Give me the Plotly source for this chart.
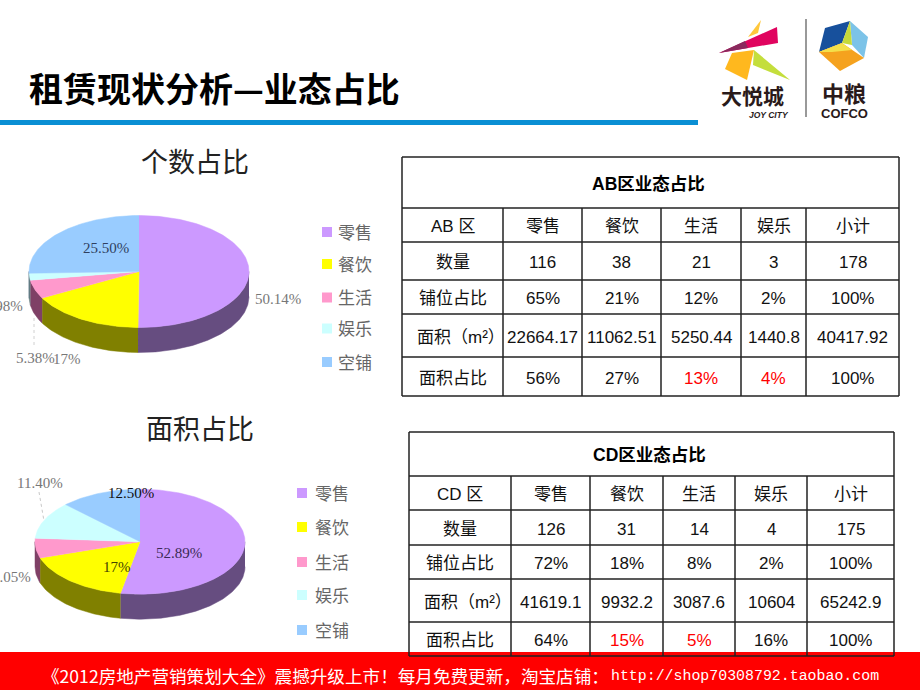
import math
import plotly.graph_objects as go

W, H = 920, 690
CJK = "Noto Sans CJK SC"
SANS = "Liberation Sans, Noto Sans CJK SC"
SERIF = "Liberation Serif, Noto Sans CJK SC"

# ---------- data ----------
slice_names = ["零售", "餐饮", "生活", "娱乐", "空铺"]
count_share = [50.14, 17, 5.38, 1.98, 25.50]
area_share = [52.89, 17, 6.05, 11.40, 12.50]
count_labels = ["50.14%", "17%", "5.38%", "1.98%", "25.50%"]
area_labels = ["52.89%", "17%", "6.05%", "11.40%", "12.50%"]
top_colors = ["#CC99FF", "#FFFF00", "#FF99CC", "#CCFFFF", "#99CCFF"]
side_colors = ["#664D80", "#808000", "#7F4066", "#668080", "#4D6680"]

ab_title = "AB区业态占比"
ab_rows = [
    ["AB 区", "零售", "餐饮", "生活", "娱乐", "小计"],
    ["数量", "116", "38", "21", "3", "178"],
    ["铺位占比", "65%", "21%", "12%", "2%", "100%"],
    ["面积（m²）", "22664.17", "11062.51", "5250.44", "1440.8", "40417.92"],
    ["面积占比", "56%", "27%", "13%", "4%", "100%"],
]
ab_red = [(4, 3), (4, 4)]

cd_title = "CD区业态占比"
cd_rows = [
    ["CD 区", "零售", "餐饮", "生活", "娱乐", "小计"],
    ["数量", "126", "31", "14", "4", "175"],
    ["铺位占比", "72%", "18%", "8%", "2%", "100%"],
    ["面积（m²）", "41619.1", "9932.2", "3087.6", "10604", "65242.9"],
    ["面积占比", "64%", "15%", "5%", "16%", "100%"],
]
cd_red = [(4, 2), (4, 3)]

# ---------- layout geometry ----------
ab_xs = [402, 503, 582, 661, 741, 806, 899]
ab_ys = [157, 208, 242, 280, 314, 357, 396]
cd_xs = [409, 511, 590, 663, 735, 807, 894]
cd_ys = [432, 476, 510, 545, 579, 622, 656]

fig = go.Figure()
shapes, notes = [], []


def note(x, y, text, size, color="#000000", family=CJK, anchor="center", bold=False, italic=False):
    notes.append(dict(x=x, y=y, text=text, showarrow=False, xanchor=anchor, yanchor="middle",
                      xref="x", yref="y", align="center",
                      font=dict(size=size, color=color, family=family,
                                weight="bold" if bold else "normal",
                                style="italic" if italic else "normal")))


def poly(points, color):
    path = "M" + "L".join(f"{x},{y}" for x, y in points) + "Z"
    shapes.append(dict(type="path", path=path, fillcolor=color, line=dict(width=0), xref="x", yref="y"))


def line(x0, y0, x1, y1, color="#222222", width=1.5, dash="solid"):
    shapes.append(dict(type="line", x0=x0, y0=y0, x1=x1, y1=y1, xref="x", yref="y",
                       line=dict(color=color, width=width, dash=dash)))


def pie3d(values, cx, cy, rx, ry, depth):
    total = sum(values)
    def pt(deg, dy=0):
        a = math.radians(deg)
        return cx + rx * math.sin(a), cy - ry * math.cos(a) + dy
    start = 0.0
    spans = []
    for v in values:
        end = start + 360.0 * v / total
        spans.append((start, end))
        start = end
    # side walls: only the front half (90..270 degrees) is visible
    for (a0, a1), col in zip(spans, side_colors):
        lo, hi = max(a0, 90), min(a1, 270)
        if hi <= lo:
            continue
        n = max(int(hi - lo), 2)
        arc = [lo + (hi - lo) * i / n for i in range(n + 1)]
        pts = [pt(a) for a in arc] + [pt(a, depth) for a in reversed(arc)]
        fig.add_trace(go.Scatter(x=[p[0] for p in pts], y=[p[1] for p in pts], mode="lines",
                                 fill="toself", fillcolor=col, line=dict(width=0.5, color=col),
                                 hoverinfo="skip", showlegend=False))
    # top faces
    for (a0, a1), col in zip(spans, top_colors):
        n = max(int(a1 - a0), 2)
        pts = [(cx, cy)] + [pt(a0 + (a1 - a0) * i / n) for i in range(n + 1)]
        fig.add_trace(go.Scatter(x=[p[0] for p in pts], y=[p[1] for p in pts], mode="lines",
                                 fill="toself", fillcolor=col, line=dict(width=0.5, color=col),
                                 hoverinfo="skip", showlegend=False))


def key(x, ys, tx):
    fig.add_trace(go.Scatter(x=[x] * len(ys), y=ys, mode="markers",
                             marker=dict(symbol="square", size=10, color=top_colors, line=dict(width=0)),
                             hoverinfo="skip", showlegend=False))
    for y, name in zip(ys, slice_names):
        note(tx, y - 1, name, 17, "#666666", anchor="left")


def table(title, rows, red, xs, ys):
    for y in ys:
        line(xs[0], y, xs[-1], y)
    line(xs[0], ys[0], xs[0], ys[-1])
    line(xs[-1], ys[0], xs[-1], ys[-1])
    for x in xs[1:-1]:
        line(x, ys[1], x, ys[-1])
    note((xs[0] + xs[-1]) / 2 - 2, (ys[0] + ys[1]) / 2 + 1, title, 17.5, "#000000", SANS, bold=True)
    for r, row in enumerate(rows):
        for c, txt in enumerate(row):
            color = "#FF0000" if (r, c) in red else "#111111"
            shift = 8 if (c == 0 and "m²" in txt) else 0
            note((xs[c] + xs[c + 1]) / 2 + shift, (ys[r + 1] + ys[r + 2]) / 2 + 1.5, txt, 17, color, SANS)


# ---------- footer band (under the tables) ----------
shapes.append(dict(type="rect", x0=0, x1=W, y0=652, y1=H, fillcolor="#FF0000", line=dict(width=0),
                   xref="x", yref="y"))
note(40, 675, "《2012房地产营销策划大全》震撼升级上市！每月免费更新，淘宝店铺：", 17.6, "#FFFFFF", CJK, anchor="left")
note(881, 676, "http://shop70308792.taobao.com", 14.9, "#FFFFFF", "Liberation Mono", anchor="right")

# ---------- heading ----------
note(27, 87, "租赁现状分析—业态占比", 34, "#000000", CJK, anchor="left", bold=True)
shapes.append(dict(type="rect", x0=0, x1=698, y0=120, y1=125, fillcolor="#0A8FD4", line=dict(width=0),
                   xref="x", yref="y"))

# ---------- logo ----------
poly([(719, 53), (777, 27), (778, 43)], "#E0045F")
poly([(719, 53), (745, 41), (748, 48)], "#8A2A5E")
poly([(761, 20), (748, 37), (758, 33)], "#FFC83C")
poly([(732, 53), (754, 50), (747, 80), (725, 69)], "#FFB81E")
poly([(754, 50), (790, 80), (753, 65)], "#C4DE3C")
line(806, 19, 806, 117, "#555555", 1.2)
poly([(825, 28), (850, 21), (842, 43), (819, 52)], "#17509C")
poly([(850, 21), (868, 37), (864, 58), (852, 45)], "#7CC3E8")
poly([(850, 21), (852, 45), (842, 43)], "#C6DA3A")
poly([(819, 52), (842, 43), (864, 58), (840, 71)], "#F5A21E")
poly([(819, 52), (842, 43), (852, 50), (832, 52)], "#F4E04A")
note(752, 95, "大悦城", 21, "#2A1A1A", CJK, bold=True)
note(769, 115, "JOY CITY", 8.5, "#2A1A1A", "Liberation Sans", bold=True, italic=True)
note(844, 92, "中粮", 22, "#2A1A1A", CJK, bold=True)
note(844, 113, "COFCO", 13, "#2A1A1A", "Liberation Sans", bold=True)

# ---------- pies ----------
note(195, 160, "个数占比", 27, "#222222")
pie3d(count_share, 139, 271.5, 110, 56, 25)
key(327, [232, 264, 297.5, 328.5, 362], 336)
note(106, 248, count_labels[4], 15, "#2F3F5F", SERIF)
note(278, 299, count_labels[0], 15, "#777777", SERIF)
note(25, 306, count_labels[3], 15, "#777777", SERIF, anchor="right")
note(35, 358, count_labels[2], 15, "#777777", SERIF)
note(67, 359, count_labels[1], 15, "#777777", SERIF)
line(34, 318, 34, 346, "#D0D0D0", 1, "dot")

note(200, 427, "面积占比", 27, "#222222")
pie3d(area_share, 140, 541.7, 105, 52.5, 25)
key(302, [493, 527, 562, 595, 630], 313)
note(131, 493, area_labels[4], 15, "#111111", SERIF)
note(179, 553, area_labels[0], 15, "#3A2A55", SERIF)
note(117, 567, area_labels[1], 15, "#444400", SERIF)
note(40, 483, area_labels[3], 15, "#777777", SERIF)
note(33, 577, area_labels[2], 15, "#777777", SERIF, anchor="right")
line(39, 492, 44, 521, "#C8C8C8", 1, "dot")

# ---------- tables ----------
table(ab_title, ab_rows, ab_red, ab_xs, ab_ys)
table(cd_title, cd_rows, cd_red, cd_xs, cd_ys)

fig.update_layout(
    width=W, height=H, margin=dict(l=0, r=0, t=0, b=0), autosize=False,
    paper_bgcolor="#FFFFFF", plot_bgcolor="#FFFFFF", showlegend=False,
    xaxis=dict(range=[0, W], visible=False, fixedrange=True),
    yaxis=dict(range=[H, 0], visible=False, fixedrange=True),
    shapes=shapes, annotations=notes, hovermode=False,
)
fig.write_html("out.html", config={"displayModeBar": False},
               post_script="document.body.style.margin='0';document.documentElement.style.overflow='hidden';")
